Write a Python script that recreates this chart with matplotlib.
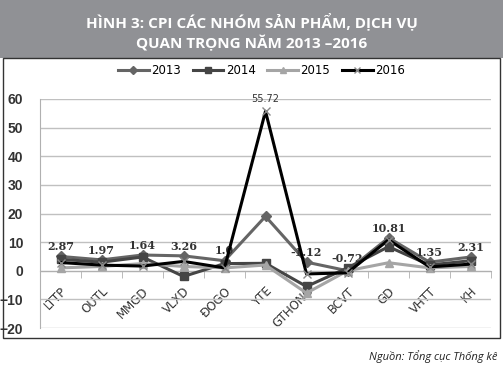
import matplotlib
matplotlib.use("Agg")
import matplotlib.pyplot as plt
from matplotlib.patches import Rectangle

categories = ["LTTP", "OUTL", "MMGD", "VLXD", "ĐOGO", "YTE", "GTHONG", "BCVT", "GD", "VHTT", "KH"]
cpi_2013 = [5.0, 3.8, 5.5, 5.2, 3.5, 19.0, 3.0, 0.0, 11.5, 3.0, 4.8]
cpi_2014 = [4.0, 3.0, 4.8, -2.0, 2.5, 2.6, -5.5, 1.0, 8.4, 2.0, 3.5]
cpi_2015 = [1.0, 1.5, 2.5, 1.5, 1.0, 2.0, -7.8, 0.0, 2.8, 1.0, 1.5]
cpi_2016 = [2.87, 1.97, 1.64, 3.26, 1.0, 55.72, -1.12, -0.72, 10.81, 1.35, 2.31]
labels_2016 = ["2.87", "1.97", "1.64", "3.26", "1.0", "55.72", "-1.12", "-0.72", "10.81", "1.35", "2.31"]
years = ["2013", "2014", "2015", "2016"]

fig = plt.figure(figsize=(5.03, 3.78), dpi=100)

# title banner
fig.patches.append(Rectangle((0, 1 - 58 / 378), 1, 58 / 378, transform=fig.transFigure,
                             facecolor="#909195", edgecolor="none", zorder=0))
fig.text(0.5, 1 - 21 / 378, "HÌNH 3: CPI CÁC NHÓM SẢN PHẨM, DỊCH VỤ", color="white",
         fontsize=11, fontweight="bold", family="Open Sans", ha="center", va="center")
fig.text(0.5, 1 - 43 / 378, "QUAN TRỌNG NĂM 2013 –2016", color="white",
         fontsize=11, fontweight="bold", family="Open Sans", ha="center", va="center")

# chart border
fig.patches.append(Rectangle((3 / 503, 1 - 338 / 378), 497 / 503, 280 / 378,
                             transform=fig.transFigure, facecolor="none",
                             edgecolor="#333333", linewidth=1.0))

fig.text(497 / 503, 1 - 357 / 378, "Nguồn: Tổng cục Thống kê", fontsize=8,
         style="italic", family="Open Sans", ha="right", va="center", color="#222222")

ax = fig.add_axes([40 / 503, 1 - 328 / 378, 451 / 503, 229 / 378])
x = list(range(len(categories)))

ax.plot(x, cpi_2013, color="#656565", lw=2.2, marker="D", ms=5, label=years[0], zorder=3)
ax.plot(x, cpi_2014, color="#454545", lw=2.2, marker="s", ms=6, label=years[1], zorder=3)
ax.plot(x, cpi_2015, color="#a5a5a5", lw=2.2, marker="^", ms=6, label=years[2], zorder=3)
ax.plot(x, cpi_2016, color="black", lw=2.2, marker="x", ms=6, mec="#888888", label=years[3], zorder=4)

for i, (v, t) in enumerate(zip(cpi_2016, labels_2016)):
    if i == 5:
        ax.text(i, v + 2.5, t, ha="center", va="bottom", fontsize=7, color="#333333")
    else:
        ax.text(i, max(v, cpi_2013[i], cpi_2014[i]) + 1.5, t, ha="center", va="bottom",
                fontsize=8, fontweight="bold", family="DejaVu Serif", color="#333333")

ax.set_xlim(-0.5, len(categories) - 0.5)
ax.set_ylim(-20, 60)
ax.set_yticks(range(-20, 61, 10))
ax.tick_params(axis="y", length=0, labelsize=10, pad=12)
for lab in ax.get_yticklabels():
    lab.set_fontweight("bold")
    lab.set_family("Liberation Sans")
    lab.set_color("#333333")
ax.yaxis.grid(True, color="#c0c0c0", lw=1)
ax.set_axisbelow(True)

ax.spines["top"].set_visible(False)
ax.spines["right"].set_visible(False)
ax.spines["left"].set_color("#b0b0b0")
ax.spines["bottom"].set_position(("data", 0))
ax.spines["bottom"].set_color("#b0b0b0")

ax.set_xticks(x)
ax.set_xticklabels(categories, rotation=45, ha="right", rotation_mode="anchor",
                   fontsize=8.5, color="#333333")
ax.tick_params(axis="x", length=0, pad=10)
ax.set_xticks([i + 0.5 for i in range(-1, len(categories))], minor=True)
ax.tick_params(axis="x", which="minor", length=5, color="#b0b0b0", direction="out")

leg = fig.legend(loc="center", bbox_to_anchor=(0.52, 1 - 71 / 378), ncol=4, frameon=False,
                 fontsize=8.5, handlelength=2.6, columnspacing=1.0, handletextpad=0.2,
                 markerscale=0.8)

fig.savefig("out.png", dpi=100)
